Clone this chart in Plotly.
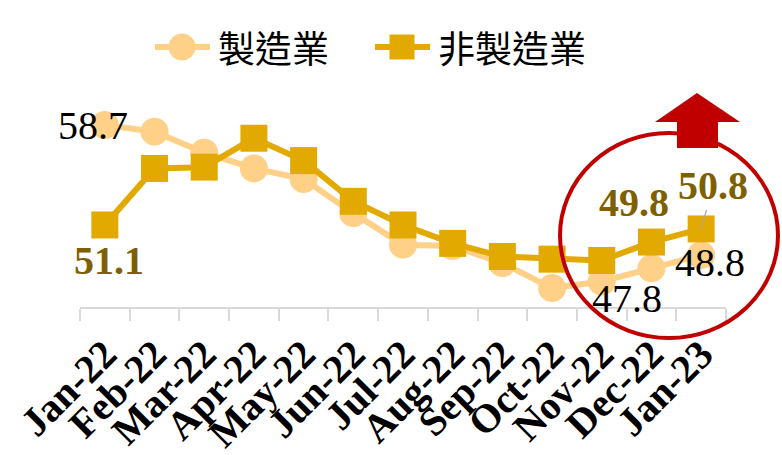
import plotly.graph_objects as go

# Monthly index values
months = ["Jan-22", "Feb-22", "Mar-22", "Apr-22", "May-22", "Jun-22", "Jul-22",
          "Aug-22", "Sep-22", "Oct-22", "Nov-22", "Dec-22", "Jan-23"]
manufacturing = [58.7, 58.2, 56.6, 55.4, 54.6, 52.0, 49.6, 49.5, 48.2, 46.3, 46.8, 47.8, 48.8]
non_manufacturing = [51.1, 55.4, 55.5, 57.7, 56.0, 52.9, 51.1, 49.7, 48.7, 48.5, 48.4, 49.8, 50.8]
series_names = ["製造業", "非製造業"]

MANU_COLOR = "#FFD188"
NONMANU_COLOR = "#E2AA00"
LABEL_GOLD = "#7F6000"
RED = "#C00000"
SERIF = "Liberation Serif, Times New Roman, serif"
CJK = "Noto Sans CJK TC, Noto Sans CJK SC, sans-serif"

W, H = 782, 455
ML, MR, MT, MB = 80, 56, 108, 148
PW, PH = W - ML - MR, H - MT - MB


def px(x):
    return (x - ML) / PW


def py(y):
    return (H - MB - y) / PH


fig = go.Figure()
fig.add_trace(go.Scatter(
    x=months, y=manufacturing, mode="lines+markers", name=series_names[0],
    line=dict(color=MANU_COLOR, width=6),
    marker=dict(symbol="circle", size=28, color=MANU_COLOR),
    showlegend=False,
))
fig.add_trace(go.Scatter(
    x=months, y=non_manufacturing, mode="lines+markers", name=series_names[1],
    line=dict(color=NONMANU_COLOR, width=6),
    marker=dict(symbol="square", size=27, color=NONMANU_COLOR),
    showlegend=False,
))

# Value labels: (series values, index, color, bold, xshift, yshift)
label_specs = [
    (manufacturing, 0, "black", False, -12, 0),
    (non_manufacturing, 0, LABEL_GOLD, True, 4, -36),
    (non_manufacturing, 11, LABEL_GOLD, True, -17, 40),
    (manufacturing, 11, "black", False, -24, -30),
    (manufacturing, 12, "black", False, 9, -7),
]
for vals, i, color, bold, xs, ys in label_specs:
    txt = f"{vals[i]:.1f}"
    if bold:
        txt = f"<b>{txt}</b>"
    fig.add_annotation(x=months[i], y=vals[i], text=txt, showarrow=False,
                       xshift=xs, yshift=ys,
                       font=dict(family=SERIF, size=40, color=color))

# Jan-23 non-manufacturing label with a short leader line
fig.add_annotation(x=months[12], y=non_manufacturing[12],
                   text=f"<b>{non_manufacturing[12]:.1f}</b>",
                   showarrow=True, arrowhead=0, arrowwidth=1.2, arrowcolor="#A6A6A6",
                   ax=12, ay=-43,
                   font=dict(family=SERIF, size=40, color=LABEL_GOLD))

shapes = []
# Highlight ellipse around the latest months
shapes.append(dict(type="circle", xref="paper", yref="paper",
                   x0=px(560), x1=px(778), y0=py(338), y1=py(133),
                   line=dict(color=RED, width=4), fillcolor="rgba(0,0,0,0)"))
# Upward arrow
arrow_pts = [(677, 148), (677, 122), (655, 122), (697, 93), (740, 122), (718, 122), (718, 148)]
path = "M " + " L ".join(f"{px(a):.4f},{py(b):.4f}" for a, b in arrow_pts) + " Z"
shapes.append(dict(type="path", xref="paper", yref="paper", path=path,
                   fillcolor=RED, line=dict(color=RED, width=0)))

# Legend drawn by hand
ly = py(47)
shapes.append(dict(type="line", xref="paper", yref="paper", x0=px(155), x1=px(210),
                   y0=ly, y1=ly, line=dict(color=MANU_COLOR, width=6)))
shapes.append(dict(type="circle", xref="paper", yref="paper",
                   x0=px(182 - 13.5), x1=px(182 + 13.5), y0=py(47 + 13.5), y1=py(47 - 13.5),
                   fillcolor=MANU_COLOR, line=dict(width=0)))
shapes.append(dict(type="line", xref="paper", yref="paper", x0=px(375), x1=px(430),
                   y0=ly, y1=ly, line=dict(color=NONMANU_COLOR, width=6)))
shapes.append(dict(type="rect", xref="paper", yref="paper",
                   x0=px(402 - 12.5), x1=px(402 + 12.5), y0=py(47 + 12.5), y1=py(47 - 12.5),
                   fillcolor=NONMANU_COLOR, line=dict(width=0)))
fig.add_annotation(xref="paper", yref="paper", x=px(216), y=ly, xanchor="left",
                   yanchor="middle", text=series_names[0], showarrow=False,
                   font=dict(family=CJK, size=37, color="black"))
fig.add_annotation(xref="paper", yref="paper", x=px(436), y=ly, xanchor="left",
                   yanchor="middle", text=series_names[1], showarrow=False,
                   font=dict(family=CJK, size=37, color="black"))

fig.update_layout(
    width=W, height=H,
    margin=dict(l=ML, r=MR, t=MT, b=MB, pad=0, autoexpand=False),
    paper_bgcolor="white", plot_bgcolor="white",
    showlegend=False,
    shapes=shapes,
    xaxis=dict(
        type="category", range=[-0.5, 12.5], automargin=False,
        showline=True, linecolor="#D9D9D9", linewidth=1.5,
        ticks="outside", tickson="boundaries", ticklen=12, tickwidth=1.5,
        tickcolor="#D9D9D9", tickangle=-45, showgrid=False,
        ticklabelstandoff=6,
        tickfont=dict(family=SERIF, size=40, color="black", weight="bold"),
    ),
    yaxis=dict(range=[44.86, 60.0], visible=False, showgrid=False, zeroline=False,
               automargin=False),
)

fig.write_html("out.html")
